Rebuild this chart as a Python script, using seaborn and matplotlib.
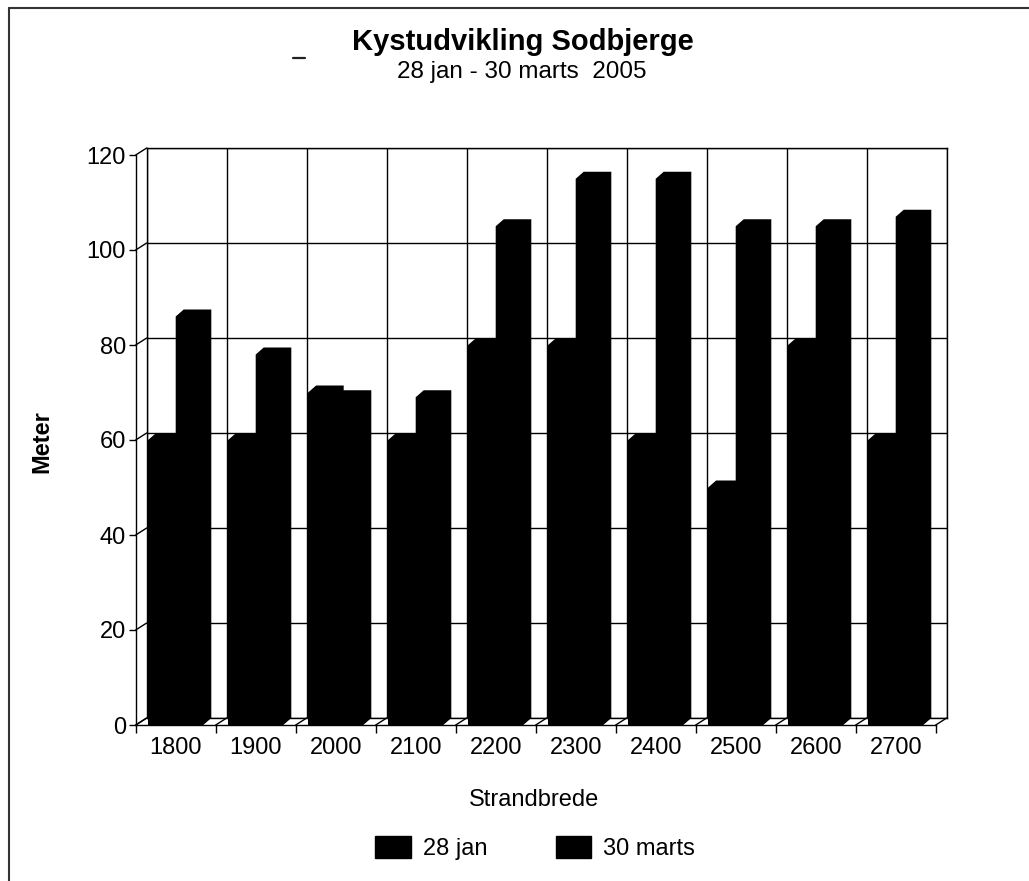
import numpy as np
import pandas as pd
import matplotlib
matplotlib.use("Agg")
import matplotlib.pyplot as plt
from matplotlib.patches import Polygon, Patch
from matplotlib.lines import Line2D
import seaborn as sns

# ---- data -------------------------------------------------------------
categories = ["1800", "1900", "2000", "2100", "2200",
              "2300", "2400", "2500", "2600", "2700"]
series_names = ["28 jan", "30 marts"]
jan_values = [60, 60, 70, 60, 80, 80, 60, 50, 80, 60]
marts_values = [86, 78, 69, 69, 105, 115, 115, 105, 105, 107]
y_ticks = [0, 20, 40, 60, 80, 100, 120]

title = "Kystudvikling Sodbjerge"
subtitle = "28 jan - 30 marts  2005"
x_label = "Strandbrede"
y_label = "Meter"

df = pd.DataFrame({
    "Strandbrede": categories * 2,
    "Meter": jan_values + marts_values,
    "Dato": [series_names[0]] * len(categories) + [series_names[1]] * len(categories),
})

# ---- style --------------------------------------------------------------
sns.set_style("white")
plt.rcParams["font.family"] = ["Liberation Sans", "DejaVu Sans"]
plt.rcParams["text.color"] = "black"
plt.rcParams["axes.labelcolor"] = "black"
plt.rcParams["xtick.color"] = "black"
plt.rcParams["ytick.color"] = "black"

W, H, DPI = 1029, 881, 100
fig = plt.figure(figsize=(W / DPI, H / DPI), dpi=DPI)
fig.patch.set_facecolor("white")

# back wall of the pseudo-3D box, in pixels
wall_l, wall_r, wall_t, wall_b = 146.7, 946.7, 148, 718
depth_x, depth_y = 11, 7      # front plane sits left / below the back wall
bar_dx, bar_dy = 8, 7         # depth of each column

ax_back = fig.add_axes([wall_l / W, 1 - wall_b / H,
                        (wall_r - wall_l) / W, (wall_b - wall_t) / H], zorder=0)
ax_front = fig.add_axes([(wall_l - depth_x) / W, 1 - (wall_b + depth_y) / H,
                         (wall_r - wall_l) / W, (wall_b - wall_t) / H], zorder=1)

n = len(categories)
ymax = y_ticks[-1]

# back wall with grid
ax_back.set_xlim(-0.5, n - 0.5)
ax_back.set_ylim(0, ymax)
ax_back.set_xticks(np.arange(-0.5, n, 1))
ax_back.set_yticks(y_ticks)
ax_back.grid(True, color="black", lw=1)
ax_back.tick_params(length=0, labelbottom=False, labelleft=False)
for s in ax_back.spines.values():
    s.set_color("black")
    s.set_linewidth(1)
ax_back.set_facecolor("white")

# front plane: columns, axes, ticks
sns.barplot(data=df, x="Strandbrede", y="Meter", hue="Dato",
            palette=["black", "black"], saturation=1, width=0.69,
            dodge=True, legend=False, ax=ax_front, linewidth=0)
ax_front.set_facecolor("none")
ax_front.set_xlim(-0.5, n - 0.5)
ax_front.set_ylim(0, ymax)
ax_front.set_yticks(y_ticks)
ax_front.set_yticklabels([str(v) for v in y_ticks])
ax_front.set_xticks(range(n))
ax_front.set_xticklabels(categories)
ax_front.set_xticks(np.arange(-0.5, n, 1), minor=True)
ax_front.tick_params(axis="x", which="major", length=0, pad=9, labelsize=17,
                     labelcolor="black")
ax_front.tick_params(axis="x", which="minor", length=6, width=1, color="black",
                     direction="out", bottom=True)
ax_front.tick_params(axis="y", length=5, width=1, color="black", direction="out",
                     left=True, pad=2, labelsize=17, labelcolor="black")
ax_front.set_xlabel("")
ax_front.set_ylabel("")
ax_front.grid(False)
for side in ("top", "right"):
    ax_front.spines[side].set_visible(False)
for side in ("left", "bottom"):
    ax_front.spines[side].set_color("black")
    ax_front.spines[side].set_linewidth(1)

to_fig = fig.transFigure.inverted()

# depth edges of the left wall and the floor
def depth_line(x, y):
    a = ax_front.transData.transform((x, y))
    b = ax_back.transData.transform((x, y))
    pts = to_fig.transform([a, b])
    fig.add_artist(Line2D(pts[:, 0], pts[:, 1], transform=fig.transFigure,
                          color="black", lw=1, zorder=2))

for v in y_ticks:
    depth_line(-0.5, v)
for k in range(n + 1):
    depth_line(k - 0.5, 0)

# give every column its depth: front face joined to its shifted back face
for bar in ax_front.patches:
    x0, y0 = bar.get_x(), bar.get_y()
    x1, y1 = x0 + bar.get_width(), y0 + bar.get_height()
    (X0, Y0), (X1, Y1) = ax_front.transData.transform([(x0, y0), (x1, y1)])
    pts = [(X0, Y0), (X1, Y0), (X1 + bar_dx, Y0 + bar_dy),
           (X1 + bar_dx, Y1 + bar_dy), (X0 + bar_dx, Y1 + bar_dy), (X0, Y1)]
    fig.add_artist(Polygon(to_fig.transform(pts), closed=True,
                           transform=fig.transFigure,
                           facecolor=bar.get_facecolor(), edgecolor="none",
                           zorder=3))

# ---- texts --------------------------------------------------------------
fig.text(523 / W, 1 - 50 / H, title, ha="center", va="baseline",
         fontsize=21, fontweight="bold", color="black")
fig.text(522 / W, 1 - 78 / H, subtitle, ha="center", va="baseline",
         fontsize=17.5, color="black")
fig.add_artist(Line2D([293 / W, 305 / W], [1 - 58 / H, 1 - 58 / H],
                      transform=fig.transFigure, color="#222222", lw=1.6))
fig.text(42 / W, 1 - 442 / H, y_label, rotation=90, ha="center", va="center",
         fontsize=17, fontweight="bold", color="black")
fig.text(534 / W, 1 - 800 / H, x_label, ha="center", va="center", fontsize=17,
         color="black")

fig.legend(handles=[Patch(facecolor="black", edgecolor="black", label=s)
                    for s in series_names],
           loc="center", bbox_to_anchor=(535 / W, 1 - 848 / H), ncol=2,
           frameon=False, fontsize=17, handlelength=1.5, handleheight=1.05,
           handletextpad=0.5, columnspacing=2.9, labelcolor="black")

# outer frame (top and left edges)
fig.add_artist(Line2D([9 / W, 1], [1 - 8 / H, 1 - 8 / H],
                      transform=fig.transFigure, color="#333333", lw=1.5))
fig.add_artist(Line2D([9 / W, 9 / W], [0, 1 - 8 / H],
                      transform=fig.transFigure, color="#333333", lw=1.5))

fig.savefig("out.png", dpi=DPI)
